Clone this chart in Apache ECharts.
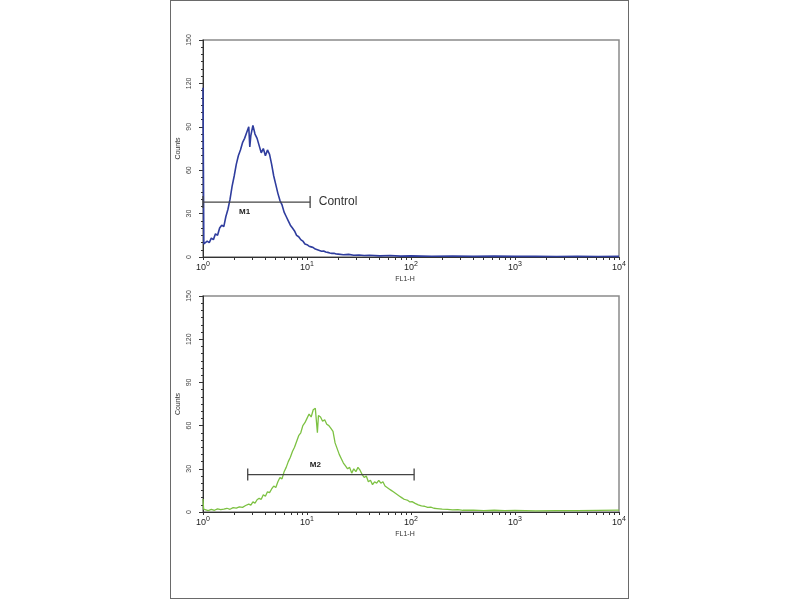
<!DOCTYPE html>
<html>
<head>
<meta charset="utf-8">
<script src="https://cdn.jsdelivr.net/npm/echarts@6.0.0/dist/echarts.min.js"></script>
<style>
  html, body { margin: 0; padding: 0; background: #ffffff; }
  #chart { position: absolute; left: 0; top: 0; width: 800px; height: 600px; }
  #frame { position: absolute; left: 170px; top: 0px; width: 457px; height: 597px;
           border: 1px solid #6a6a6a; pointer-events: none; }
</style>
</head>
<body>
<div id="chart"></div>
<div id="frame"></div>
<script>
// ---- data (x = FL1-H position in decades, log10 of the fluorescence value) ----
const decades = [0, 1, 2, 3, 4];

const ctrlX = [0, 0.004, 0.008, 0.02, 0.04, 0.06, 0.08, 0.10, 0.12, 0.14, 0.16, 0.18, 0.20, 0.22, 0.24, 0.26, 0.28, 0.30,
  0.32, 0.34, 0.36, 0.38, 0.40, 0.42, 0.44, 0.45, 0.46, 0.48, 0.50, 0.52, 0.54, 0.56, 0.58, 0.60, 0.62, 0.64,
  0.66, 0.68, 0.70, 0.72, 0.74, 0.76, 0.78, 0.80, 0.82, 0.84, 0.86, 0.88, 0.90, 0.92, 0.94, 0.96, 0.98, 1.00,
  1.02, 1.04, 1.06, 1.08, 1.10, 1.12, 1.14, 1.16, 1.18, 1.20, 1.22, 1.24, 1.26, 1.28, 1.30, 1.35, 1.40, 1.45,
  1.50, 1.55, 1.60, 1.70, 1.80, 1.90, 2.00, 2.20, 2.40, 2.60, 2.80, 3.00, 3.20, 3.40, 3.60, 3.80, 4.00];
const ctrlY = [117, 62, 9, 9.5, 11, 10, 13, 12, 16, 15, 20, 22, 21, 28, 33, 40, 49, 56,
  64, 70, 74, 79, 82, 86, 90, 76, 84, 91, 85, 82, 77, 72, 75, 70, 74, 71,
  64, 56, 50, 44, 39, 36, 31, 28, 25, 22, 20, 18, 15, 14, 12, 11, 9, 8.5,
  7.5, 7, 6.5, 5.5, 5, 4.5, 4, 4.2, 3.5, 3.2, 2.8, 2.5, 2.6, 2.1, 2.0, 1.6, 1.8, 1.2,
  1.4, 1.0, 1.2, 0.8, 1.0, 0.6, 0.8, 0.5, 0.7, 0.4, 0.6, 0.4, 0.5, 0.3, 0.5, 0.3, 0.4];

const testX = [0, 0.006, 0.02, 0.05, 0.08, 0.11, 0.14, 0.17, 0.20, 0.23, 0.26, 0.29, 0.32, 0.35, 0.38, 0.41, 0.44,
  0.46, 0.48, 0.50, 0.52, 0.54, 0.56, 0.58, 0.60, 0.62, 0.64, 0.66, 0.68, 0.70, 0.72, 0.74, 0.76, 0.78, 0.80,
  0.82, 0.84, 0.86, 0.88, 0.90, 0.92, 0.94, 0.96, 0.98, 1.00, 1.02, 1.04, 1.06, 1.08, 1.10, 1.11, 1.13, 1.15,
  1.17, 1.19, 1.21, 1.23, 1.25, 1.27, 1.29, 1.31, 1.33, 1.35, 1.37, 1.39, 1.41, 1.43, 1.45, 1.47, 1.49, 1.51,
  1.53, 1.55, 1.57, 1.59, 1.61, 1.63, 1.65, 1.67, 1.69, 1.71, 1.73, 1.75, 1.77, 1.79, 1.81, 1.83, 1.85, 1.87,
  1.89, 1.91, 1.93, 1.95, 1.97, 1.99, 2.01, 2.04, 2.07, 2.10, 2.13, 2.16, 2.19, 2.22, 2.25, 2.30, 2.35, 2.40,
  2.45, 2.50, 2.60, 2.70, 2.80, 2.90, 3.00, 3.20, 3.40, 3.60, 3.80, 4.00];
const testY = [9, 2, 1.5, 1.0, 1.8, 1.2, 2.2, 1.6, 2.0, 2.6, 1.9, 3.0, 2.7, 3.6, 3.2, 4.5, 5.5,
  4.8, 7.0, 6.2, 8.5, 9.5, 8.8, 12, 11, 14, 13.5, 16, 18, 17, 21, 24, 23, 28, 31,
  35, 38, 42, 45, 49, 53, 55, 60, 62, 65, 68, 66, 71, 72, 55, 67, 66, 63,
  64, 61, 60, 58, 56, 48, 44, 40, 37, 34, 32, 30, 31, 27, 30, 28, 31, 29,
  26, 24, 25, 21, 22, 19, 21, 20, 22, 20, 21, 18, 17, 16, 15, 14, 13, 12,
  11, 10, 9, 8.5, 8, 7, 7.2, 6, 5, 4.2, 4, 3.2, 3.4, 2.6, 2.4, 2.0, 1.8, 1.5,
  1.6, 1.2, 1.3, 1.0, 1.2, 0.9, 1.1, 0.8, 1.0, 0.9, 1.1, 1.3];

// markers: [start, end] in decades, label position in decades, level in counts
const m1X = [0, 1.03];
const m1LabelX = 0.40;
const m1Level = 38;
const m2X = [0.43, 2.03];
const m2LabelX = 1.08;
const m2Level = 26;

// ---- build ----
const font = 'Liberation Sans, Arial, sans-serif';
const minorTicks = [];
for (let d = 0; d < 4; d++) {
  for (let k = 1; k < 10; k++) minorTicks.push(d + Math.log10(k));
}
minorTicks.push(4);

function pairs(xs, ys) { return xs.map((x, i) => [x, ys[i]]); }

function xAxis(gi) {
  return {
    type: 'value', gridIndex: gi, min: 0, max: 4,
    axisLine: { show: true, onZero: false, lineStyle: { color: '#333', width: 1 } },
    axisTick: { show: true, customValues: minorTicks, length: 3, lineStyle: { color: '#333' } },
    axisLabel: {
      customValues: decades, margin: 4, color: '#222', fontFamily: font, fontSize: 9,
      formatter: v => '10{s|' + Math.round(v) + '}',
      rich: { s: { fontSize: 7, fontFamily: font, color: '#222', verticalAlign: 'top', padding: [0, 0, 6, 0] } }
    },
    splitLine: { show: false },
    name: 'FL1-H', nameLocation: 'middle', nameGap: 19, nameMoveOverlap: false,
    nameTextStyle: { fontSize: 7, color: '#333', fontFamily: font, padding: [0, 12, 0, 0] }
  };
}
function yAxis(gi) {
  return {
    type: 'value', gridIndex: gi, min: 0, max: 150, interval: 30,
    axisLine: { show: true, lineStyle: { color: '#333', width: 1 } },
    axisTick: { show: true, length: 4, lineStyle: { color: '#333' } },
    minorTick: { show: true, splitNumber: 6, length: 2, lineStyle: { color: '#333' } },
    axisLabel: { rotate: 90, margin: 10, fontSize: 7, color: '#444', fontFamily: font },
    splitLine: { show: false },
    name: 'Counts', nameLocation: 'middle', nameGap: 21, nameRotate: 90, nameMoveOverlap: false,
    nameTextStyle: { fontSize: 7, color: '#333', fontFamily: font }
  };
}
function marker(gi, xs, level, endText) {
  const data = [{ value: [xs[0], level] }, { value: [xs[1], level] }];
  if (endText) {
    data[1].label = { show: true, formatter: endText, position: 'right', distance: 8, fontSize: 12, color: '#333', fontFamily: font };
  }
  return {
    type: 'line', xAxisIndex: gi, yAxisIndex: gi, data: data,
    symbol: 'rect', symbolSize: [1.3, 12], showSymbol: true,
    lineStyle: { color: '#444', width: 1.2 }, itemStyle: { color: '#444' },
    z: 5, silent: true
  };
}
function markerLabel(gi, x, level, text, pos) {
  return {
    type: 'scatter', xAxisIndex: gi, yAxisIndex: gi, data: [[x, level]],
    symbol: 'circle', symbolSize: 1, itemStyle: { color: 'rgba(255,255,255,0)' }, z: 6, silent: true,
    labelLayout: { hideOverlap: false },
    label: { show: true, formatter: text, position: pos, distance: 5, fontSize: 8, fontWeight: 'bold',
             color: '#222', opacity: 1, fontFamily: font }
  };
}

const chart = echarts.init(document.getElementById('chart'), null, { renderer: 'canvas' });
chart.setOption({
  animation: false,
  backgroundColor: '#ffffff',
  grid: [
    { left: 203, top: 40, width: 416, height: 217, show: true, borderColor: '#8a8a8a', borderWidth: 1.5, backgroundColor: 'transparent' },
    { left: 203, top: 296, width: 416, height: 216, show: true, borderColor: '#8a8a8a', borderWidth: 1.5, backgroundColor: 'transparent' }
  ],
  xAxis: [xAxis(0), xAxis(1)],
  yAxis: [yAxis(0), yAxis(1)],
  series: [
    { type: 'line', xAxisIndex: 0, yAxisIndex: 0, data: pairs(ctrlX, ctrlY), showSymbol: false,
      lineStyle: { color: '#2f3d9e', width: 1.6 }, z: 3, silent: true },
    { type: 'line', xAxisIndex: 1, yAxisIndex: 1, data: pairs(testX, testY), showSymbol: false,
      lineStyle: { color: '#7cc142', width: 1.3 }, z: 3, silent: true },
    marker(0, m1X, m1Level, 'Control'),
    marker(1, m2X, m2Level, null),
    markerLabel(0, m1LabelX, m1Level, 'M1', 'bottom'),
    markerLabel(1, m2LabelX, m2Level, 'M2', 'top')
  ]
});
</script>
</body>
</html>
